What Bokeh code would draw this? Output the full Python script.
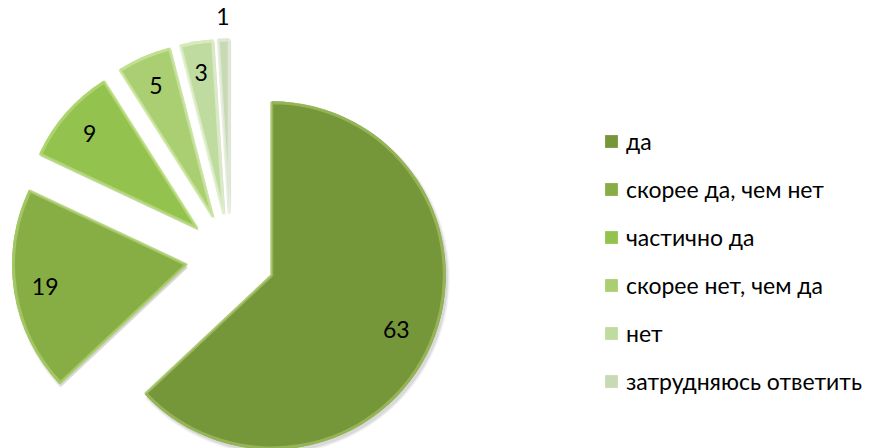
import numpy as np
from bokeh.plotting import figure
from bokeh.models import Range1d, ColumnDataSource, Legend, LegendItem
from bokeh.embed import file_html
from bokeh.resources import INLINE
from bokeh.core.properties import value

categories = ["да", "скорее да, чем нет", "частично да",
              "скорее нет, чем да", "нет", "затрудняюсь ответить"]
values = [63, 19, 9, 5, 3, 1]
colors = ["#76963A", "#86AE44", "#93C24F", "#A9CF72", "#C0DBA0", "#C8D9B5"]
highlights = ["#9DBB5E", "#A9CC6A", "#B4D975", "#C8E49A", "#DCEDC6", "#E2EBD8"]

W, H = 878, 448
cx, cy = 230, 191        # pie centre (screen px inside the frame, y up)
R = 174                  # radius in px
EXPL = 45                # explosion distance in px
FONT = "Lato"

total = float(sum(values))
frac = np.array(values) / total
cum = np.concatenate([[0.0], np.cumsum(frac)])
start = np.pi / 2 - 2 * np.pi * cum[:-1]
end = np.pi / 2 - 2 * np.pi * cum[1:]
mid = (start + end) / 2
xs = cx + EXPL * np.cos(mid)
ys = cy + EXPL * np.sin(mid)

# label positions: inside for big slices, outside for the smallest one
lab_r = np.where(frac < 0.02, EXPL + R + 22,
                 np.where(frac > 0.5, EXPL + 0.78 * R, EXPL + 0.82 * R))
lx = cx + lab_r * np.cos(mid)
ly = cy + lab_r * np.sin(mid)

src = ColumnDataSource(dict(x=xs, y=ys, sx=xs + 2, sy=ys - 3,
                            start=start, end=end, color=colors,
                            hl=highlights, cat=categories,
                            lx=lx, ly=ly, txt=[str(v) for v in values]))

p = figure(width=W, height=H, output_backend="svg", toolbar_location=None,
           x_range=Range1d(0, W), y_range=Range1d(0, H), min_border=0)
p.axis.visible = False
p.grid.visible = False
p.outline_line_color = None
p.background_fill_color = "white"
p.border_fill_color = "white"

# soft shadow
for dx, a in [(4, 0.06), (3, 0.08), (2, 0.10)]:
    p.wedge(x="sx", y="sy", radius=R + dx - 2, start_angle="start", end_angle="end",
            direction="clock", fill_color="#555555", fill_alpha=a, line_color=None,
            source=src)

main = p.wedge(x="x", y="y", radius=R, start_angle="start", end_angle="end",
               direction="clock", fill_color="color", line_color=None, source=src)
# bevel highlight
p.wedge(x="x", y="y", radius=R - 1.5, start_angle="start", end_angle="end",
        direction="clock", fill_color=None, line_color="hl", line_width=3,
        line_alpha=0.8, line_join="round", source=src)

p.text(x="lx", y="ly", text="txt", source=src, text_align="center",
       text_baseline="middle", text_font=value(FONT), text_font_size="23px",
       text_color="black")

items = [LegendItem(label=c, renderers=[main], index=i) for i, c in enumerate(categories)]
legend = Legend(items=items, location=(603, 53), orientation="vertical",
                glyph_width=16, glyph_height=16, label_height=28, spacing=20,
                label_standoff=7, padding=0, margin=0,
                label_text_font=FONT, label_text_font_size="23px",
                label_text_color="black",
                border_line_alpha=0, background_fill_alpha=0)
p.add_layout(legend, "center")

open("out.html", "w").write(file_html(p, INLINE))
